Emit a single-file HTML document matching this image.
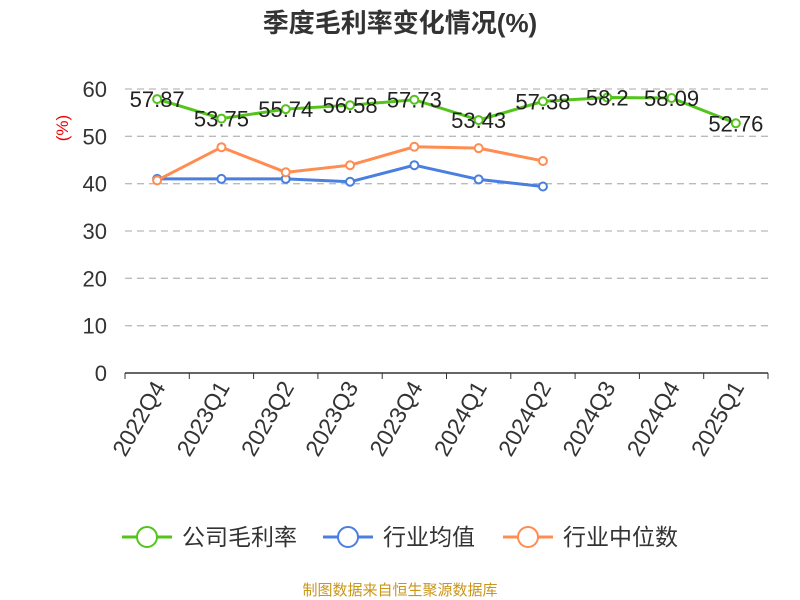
<!DOCTYPE html>
<html><head><meta charset="utf-8"><style>
body{margin:0;background:#fff}
svg{display:block;font-family:"Liberation Sans","Noto Sans CJK SC",sans-serif}
</style></head><body>
<svg id="chart" width="800" height="600">
<text x="400" y="32" text-anchor="middle" font-size="26" font-weight="bold" fill="#333">季度毛利率变化情况(%)</text>
<text x="68" y="128" font-size="17" fill="#e00" transform="rotate(-90 68 128)" text-anchor="middle">(%)</text>
<g id="grid"></g><g id="axes"></g><g id="series"></g>
<g id="legend"></g>
<text x="400" y="595" text-anchor="middle" font-size="15" fill="#c9961a">制图数据来自恒生聚源数据库</text>
</svg>
<script>
const categories=["2022Q4","2023Q1","2023Q2","2023Q3","2023Q4","2024Q1","2024Q2","2024Q3","2024Q4","2025Q1"];
const companyValues=[57.87,53.75,55.74,56.58,57.73,53.43,57.38,58.2,58.09,52.76];
const industryMean=[41,41,41,40.4,43.9,40.9,39.4];
const industryMedian=[40.7,47.7,42.4,43.9,47.8,47.5,44.8];
const yTicks=[0,10,20,30,40,50,60];
const seriesNames=["公司毛利率","行业均值","行业中位数"];
const colors=["#52c41a","#4a7fe0","#ff8c50"];
const NS="http://www.w3.org/2000/svg";
const L=125,R=768,T=89,B=373;
const bw=(R-L)/categories.length;
const x=i=>L+bw*(i+0.5);
const y=v=>B-(v/60)*(B-T);
function mk(tag,attrs,parent){const e=document.createElementNS(NS,tag);for(const k in attrs)e.setAttribute(k,attrs[k]);parent.appendChild(e);return e;}
const grid=document.getElementById('grid'),axes=document.getElementById('axes'),ser=document.getElementById('series'),leg=document.getElementById('legend');
yTicks.forEach(t=>{
 if(t>0){const g=mk('line',{x1:L,x2:R,y1:y(t),y2:y(t),stroke:'#bbb','stroke-width':1.3,'stroke-dasharray':'7,5'},grid);
 
 }
 const tx=mk('text',{x:L-18,y:y(t)+8,'text-anchor':'end','font-size':22,fill:'#333'},axes);tx.textContent=t;
 
 
});
const ax=mk('line',{x1:L,x2:R,y1:B,y2:B,stroke:'#333','stroke-width':1.5},axes);


for(let i=0;i<=categories.length;i++){const tk=mk('line',{x1:L+bw*i,x2:L+bw*i,y1:B,y2:B+6,stroke:'#333'},axes);
 
 }
categories.forEach((c,i)=>{
 const tx=mk('text',{x:x(i)+9,y:B+14,'text-anchor':'end','font-size':23,fill:'#333',transform:`rotate(-60 ${x(i)+9} ${B+14})`},axes);tx.textContent=c;
 
 
});
function drawSeries(vals,col,name,labels){
 const g=mk('g',{},ser);
 
 
 const p=mk('polyline',{points:vals.map((v,i)=>x(i)+','+y(v)).join(' '),fill:'none',stroke:col,'stroke-width':3},g);
 
 
 vals.forEach((v,i)=>{
  const c=mk('circle',{cx:x(i),cy:y(v),r:4,fill:'#fff',stroke:col,'stroke-width':2},g);
  
  
  if(labels){const t=mk('text',{x:x(i),y:y(v)+8,'text-anchor':'middle','font-size':22,fill:'#222'},g);t.textContent=v;
   
   }
 });
}
drawSeries(industryMean,colors[1],'industry-mean',false);
drawSeries(industryMedian,colors[2],'industry-median',false);
drawSeries(companyValues,colors[0],'company-margin',true);
const lx=[122,323,503];
seriesNames.forEach((n,i)=>{
 const g=mk('g',{},leg);
 
 
 mk('line',{x1:lx[i],x2:lx[i]+50,y1:537,y2:537,stroke:colors[i],'stroke-width':3},g);
 mk('circle',{cx:lx[i]+25,cy:537,r:10,fill:'#fff',stroke:colors[i],'stroke-width':2},g);
 const t=mk('text',{x:lx[i]+60,y:545,'font-size':23,fill:'#333'},g);t.textContent=n;
});
</script>
</body></html>
